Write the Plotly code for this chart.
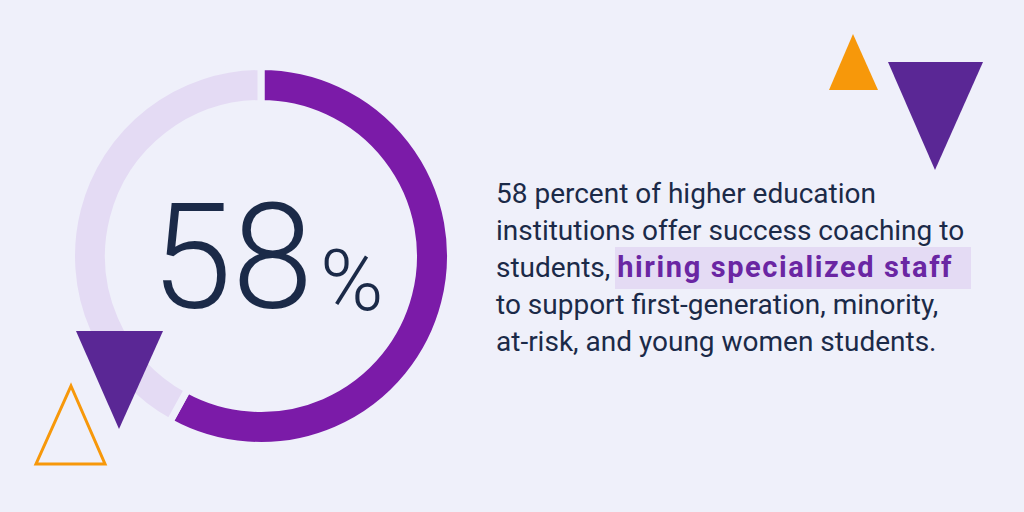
import plotly.graph_objects as go

# Data
labels = ["Offer success coaching", "Do not"]
values = [58, 42]
colors = ["#7b1ba8", "#e4dbf4"]
big_number = "58"
body_lines = [
    "58 percent of higher education",
    "institutions offer success coaching to",
    "students, ",
    "to support first-generation, minority,",
    "at-risk, and young women students.",
]
highlight = "hiring specialized staff"

BG = "#eff0fa"
NAVY = "#1b2a48"
DPURPLE = "#5a2795"
ORANGE = "#f7980a"

W, H = 1024, 512
cx, cy, R = 261, 256, 189.5
GAP = 7

fig = go.Figure()
fig.add_trace(go.Pie(
    labels=labels, values=values, hole=(156 - GAP / 2) / R, sort=False,
    direction="clockwise", rotation=0,
    marker=dict(colors=colors, line=dict(color=BG, width=GAP)),
    textinfo="none", hoverinfo="label+percent", showlegend=False,
    domain=dict(x=[(cx - R) / W, (cx + R) / W], y=[1 - (cy + R) / H, 1 - (cy - R) / H]),
))

# invisible pixel-space axes for decorations / text
fig.add_trace(go.Scatter(x=[0, W], y=[0, H], mode="markers",
                         marker=dict(opacity=0), hoverinfo="skip", showlegend=False))

def tri(pts):
    return "M " + " L ".join(f"{x},{y}" for x, y in pts) + " Z"

shapes = [
    dict(type="rect", x0=615, x1=971, y0=247, y1=289, fillcolor="#e4dbf4", line=dict(width=0), layer="below"),
    dict(type="path", path=tri([(853, 34), (878, 90), (829, 90)]), fillcolor=ORANGE, line=dict(width=0)),
    dict(type="path", path=tri([(888, 62), (983, 62), (935, 170)]), fillcolor=DPURPLE, line=dict(width=0)),
    dict(type="path", path=tri([(76, 331), (163, 331), (119, 429)]), fillcolor=DPURPLE, line=dict(width=0)),
    dict(type="path", path=tri([(71, 386), (105, 464), (36, 464)]), fillcolor="rgba(0,0,0,0)",
         line=dict(color=ORANGE, width=3)),
]
for s in shapes:
    s.update(xref="x", yref="y")
    fig.add_shape(**s)

ann = []
ann.append(dict(x=232, y=258, text=big_number, showarrow=False, xanchor="center", yanchor="middle",
                font=dict(family="Roboto", size=146, color=NAVY, weight=300)))
ann.append(dict(x=352, y=280, text="%", showarrow=False, xanchor="center", yanchor="middle",
                font=dict(family="Roboto", size=86, color=NAVY, weight=300)))

line_y = [193, 230, 267, 304, 341]
for i, (t, yy) in enumerate(zip(body_lines, line_y)):
    if i == 2:
        t = t + ("<span style='color:#6a26a3;letter-spacing:1.6px;font-size:29px'><b>"
                 + highlight + "</b></span>")
    ann.append(dict(x=494, y=yy, text=t, showarrow=False, xanchor="left", yanchor="middle",
                    font=dict(family="Roboto", size=28, color=NAVY)))
for a in ann:
    a.update(xref="x", yref="y")
    fig.add_annotation(**a)

fig.update_layout(
    width=W, height=H, margin=dict(l=0, r=0, t=0, b=0),
    paper_bgcolor=BG, plot_bgcolor=BG,
    xaxis=dict(range=[0, W], visible=False, fixedrange=True),
    yaxis=dict(range=[H, 0], visible=False, fixedrange=True),
)
fig.write_html("out.html", config={"displayModeBar": False},
               post_script="document.body.style.margin='0px';document.body.style.overflow='hidden';"
                           "document.body.style.background='" + BG + "';")
